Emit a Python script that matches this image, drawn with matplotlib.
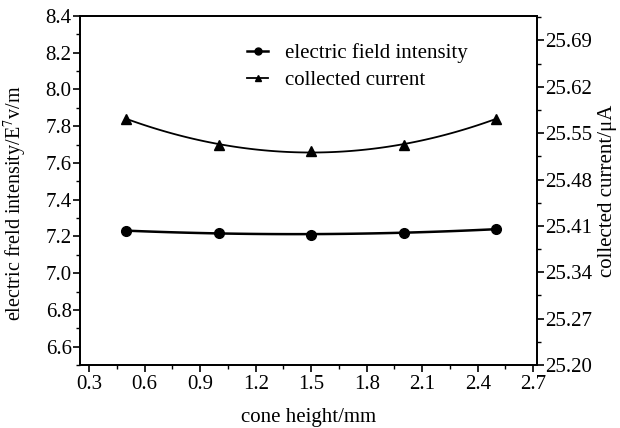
import numpy as np
import matplotlib
matplotlib.use('Agg')
import matplotlib.pyplot as plt
from matplotlib.ticker import MultipleLocator, FormatStrFormatter

plt.rcParams['font.family'] = ['Liberation Serif', 'DejaVu Serif']
plt.rcParams['mathtext.fontset'] = 'stix'

# data
cone_height = [0.5, 1.0, 1.5, 2.0, 2.5]
field = [7.23, 7.22, 7.21, 7.22, 7.24]
current = [25.572, 25.532, 25.523, 25.532, 25.572]

fig = plt.figure(figsize=(6.2, 4.28), dpi=100)
ax = fig.add_axes([0.129, 0.147, 0.737, 0.816])
ax2 = ax.twinx()

# smooth fitted curves through the points
xs = np.linspace(cone_height[0], cone_height[-1], 100)
pf = np.polyfit(cone_height, field, 2)
pc = np.polyfit(cone_height, current, 2)

ax.plot(xs, np.polyval(pf, xs), color='black', lw=1.8)
ax.plot(cone_height, field, 'o', color='black', ms=7)
ax2.plot(xs, np.polyval(pc, xs), color='black', lw=1.3)
ax2.plot(cone_height, current, '^', color='black', ms=6.5)

ax.xaxis.set_major_locator(MultipleLocator(0.3))
ax.xaxis.set_minor_locator(MultipleLocator(0.15))
ax.xaxis.set_major_formatter(FormatStrFormatter('%.1f'))
ax.yaxis.set_major_locator(MultipleLocator(0.2))
ax.yaxis.set_minor_locator(MultipleLocator(0.1))
ax.yaxis.set_major_formatter(FormatStrFormatter('%.1f'))
ax2.set_yticks(np.arange(25.20, 25.70, 0.07))
ax2.yaxis.set_minor_locator(MultipleLocator(0.035))
ax2.yaxis.set_major_formatter(FormatStrFormatter('%.2f'))

ax.set_xlim(0.25, 2.72)
ax.set_ylim(6.5, 8.4)
ax2.set_ylim(25.20, 25.727)

for a in (ax, ax2):
    a.tick_params(which='major', direction='out', length=5, width=1.2, labelsize=15)
    a.tick_params(which='minor', direction='out', length=3, width=1.0)
    for s in a.spines.values():
        s.set_linewidth(1.3)
ax.tick_params(axis='x', pad=2)
ax.tick_params(axis='y', pad=1)
ax2.tick_params(axis='y', pad=1)

ax.set_xlabel('cone height/mm', fontsize=15, labelpad=10)
ax.set_ylabel('electric freld intensity/E$^{7}$v/m', fontsize=14.5)
ax.yaxis.set_label_coords(-0.112, 0.465)
ax2.set_ylabel('collected current/μA', fontsize=15, labelpad=4)

h1, = ax.plot([], [], '-o', color='black', lw=1.8, ms=5)
h2, = ax.plot([], [], '-^', color='black', lw=1.3, ms=5)
ax.legend([h1, h2], ['electric field intensity', 'collected current'],
          loc='upper left', bbox_to_anchor=(0.325, 0.975), frameon=False,
          fontsize=15, handlelength=1.0, handletextpad=0.8, labelspacing=0.35)

fig.savefig('out.png', dpi=100)
